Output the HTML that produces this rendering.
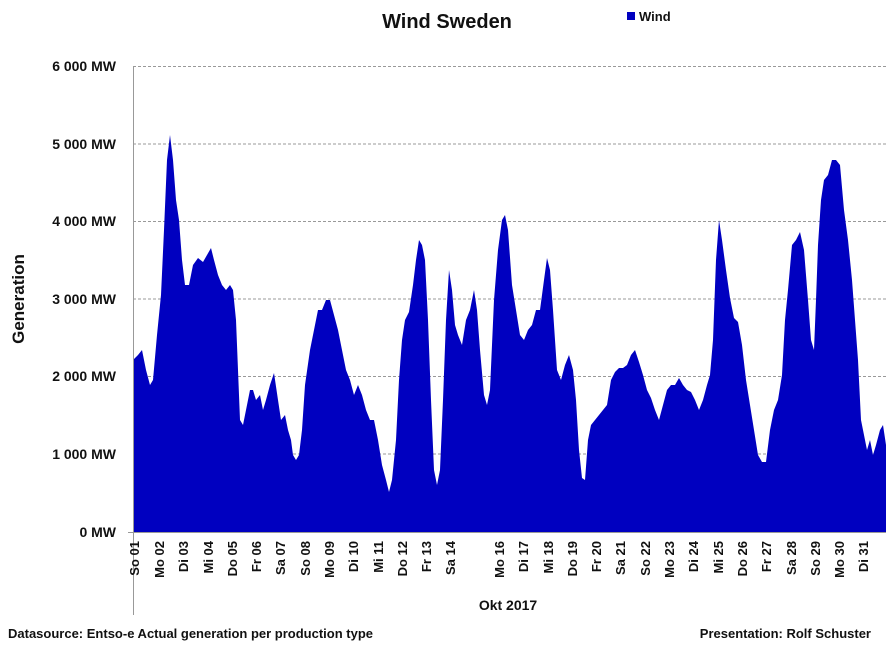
<!DOCTYPE html>
<html><head><meta charset="utf-8"><style>
body{margin:0;background:#fff}
svg text{font-family:"Liberation Sans",Arial,sans-serif;font-weight:bold;fill:#111}
</style></head><body>
<svg width="886" height="644" viewBox="0 0 886 644" xmlns="http://www.w3.org/2000/svg">
<rect width="886" height="644" fill="#fff"/>
<text x="447" y="28" font-size="20" text-anchor="middle">Wind Sweden</text>
<rect x="627" y="12" width="8" height="8" fill="#0000c0"/>
<text x="639" y="21" font-size="13">Wind</text>
<g stroke="#999" stroke-dasharray="3,2" stroke-width="1">
<line x1="133" y1="66.5" x2="886" y2="66.5"/>
<line x1="133" y1="144" x2="886" y2="144"/>
<line x1="133" y1="221.5" x2="886" y2="221.5"/>
<line x1="133" y1="299" x2="886" y2="299"/>
<line x1="133" y1="376.5" x2="886" y2="376.5"/>
<line x1="133" y1="454" x2="886" y2="454"/>
</g>
<g font-size="14" text-anchor="end">
<text x="116" y="71">6 000 MW</text>
<text x="116" y="149">5 000 MW</text>
<text x="116" y="226">4 000 MW</text>
<text x="116" y="304">3 000 MW</text>
<text x="116" y="381">2 000 MW</text>
<text x="116" y="459">1 000 MW</text>
<text x="116" y="537">0 MW</text>
</g>
<text transform="translate(24,299) rotate(-90)" font-size="17" text-anchor="middle">Generation</text>
<polygon fill="#0000c0" points="133,532 133,360 138,355 142,350 146,370 150,385 153,380 157,335 161,295 164,230 167,160 170,135 173,160 176,200 179,220 182,260 185,285 189,285 193,265 198,258 203,262 207,255 211,248 214,260 218,275 222,285 226,290 230,285 233,290 236,320 238,370 240,420 243,425 246,410 250,390 253,390 256,400 260,395 263,410 266,400 270,385 274,373 278,400 281,420 285,415 288,430 291,440 293,455 296,460 299,455 302,430 305,385 310,350 314,330 318,310 322,310 326,300 330,300 334,315 338,330 342,350 346,370 350,380 354,395 358,385 362,395 366,410 370,420 374,420 378,440 382,465 386,480 389,492 392,480 396,440 399,380 402,340 405,320 409,312 413,285 416,260 419,240 422,245 425,260 428,320 431,400 434,470 437,485 440,470 443,400 446,320 449,270 452,290 455,325 458,335 462,345 466,320 470,310 474,290 477,310 480,350 484,395 487,405 490,390 494,300 498,250 502,220 505,215 508,230 512,285 516,310 520,335 524,340 528,330 532,325 536,310 540,310 544,280 547,258 550,270 553,310 557,370 561,380 565,365 569,355 573,370 576,400 579,450 582,478 585,480 588,440 591,425 595,420 599,415 603,410 607,405 611,380 615,372 619,368 623,368 627,365 631,355 635,350 639,362 643,375 647,390 651,398 655,410 659,420 663,405 667,390 671,385 675,385 679,378 683,385 687,390 691,392 695,400 699,410 703,400 707,385 710,375 713,340 716,260 719,220 722,240 726,270 730,298 734,318 738,322 742,345 746,380 750,405 754,430 758,455 762,462 766,462 770,430 774,410 778,400 782,375 785,320 788,290 792,245 796,240 800,232 804,250 808,300 811,340 814,350 816,300 818,245 821,200 824,180 828,175 832,160 836,160 840,165 844,210 848,240 852,280 855,320 858,360 861,420 864,435 867,450 870,440 873,455 876,445 880,430 883,425 886,445 886,532"/>
<line x1="128" y1="532.5" x2="886" y2="532.5" stroke="#999"/>
<line x1="133.5" y1="66" x2="133.5" y2="615" stroke="#999"/>
<g font-size="13" text-anchor="end">
<text transform="translate(139,541) rotate(-90)">So 01</text>
<text transform="translate(164,541) rotate(-90)">Mo 02</text>
<text transform="translate(188,541) rotate(-90)">Di 03</text>
<text transform="translate(213,541) rotate(-90)">Mi 04</text>
<text transform="translate(237,541) rotate(-90)">Do 05</text>
<text transform="translate(261,541) rotate(-90)">Fr 06</text>
<text transform="translate(285,541) rotate(-90)">Sa 07</text>
<text transform="translate(310,541) rotate(-90)">So 08</text>
<text transform="translate(334,541) rotate(-90)">Mo 09</text>
<text transform="translate(358,541) rotate(-90)">Di 10</text>
<text transform="translate(383,541) rotate(-90)">Mi 11</text>
<text transform="translate(407,541) rotate(-90)">Do 12</text>
<text transform="translate(431,541) rotate(-90)">Fr 13</text>
<text transform="translate(455,541) rotate(-90)">Sa 14</text>
<text transform="translate(504,541) rotate(-90)">Mo 16</text>
<text transform="translate(528,541) rotate(-90)">Di 17</text>
<text transform="translate(553,541) rotate(-90)">Mi 18</text>
<text transform="translate(577,541) rotate(-90)">Do 19</text>
<text transform="translate(601,541) rotate(-90)">Fr 20</text>
<text transform="translate(625,541) rotate(-90)">Sa 21</text>
<text transform="translate(650,541) rotate(-90)">So 22</text>
<text transform="translate(674,541) rotate(-90)">Mo 23</text>
<text transform="translate(698,541) rotate(-90)">Di 24</text>
<text transform="translate(723,541) rotate(-90)">Mi 25</text>
<text transform="translate(747,541) rotate(-90)">Do 26</text>
<text transform="translate(771,541) rotate(-90)">Fr 27</text>
<text transform="translate(796,541) rotate(-90)">Sa 28</text>
<text transform="translate(820,541) rotate(-90)">So 29</text>
<text transform="translate(844,541) rotate(-90)">Mo 30</text>
<text transform="translate(868,541) rotate(-90)">Di 31</text>
</g>
<text x="508" y="610" font-size="14" text-anchor="middle">Okt 2017</text>
<text x="8" y="638" font-size="13">Datasource: Entso-e  Actual generation per production type</text>
<text x="871" y="638" font-size="13" text-anchor="end">Presentation: Rolf Schuster</text>
</svg>
</body></html>
